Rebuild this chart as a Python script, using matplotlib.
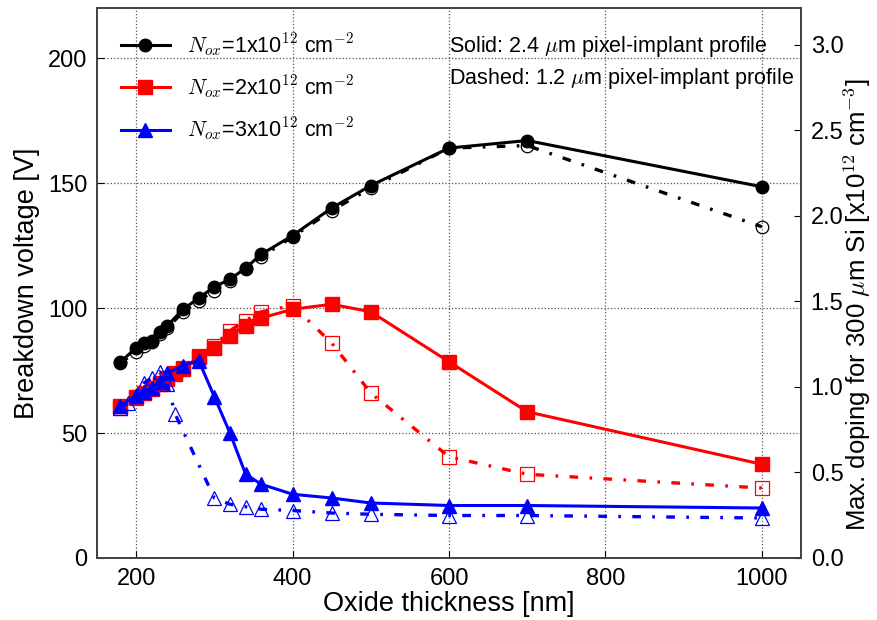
import matplotlib
matplotlib.use("Agg")
import matplotlib.pyplot as plt

plt.rcParams["font.family"] = ["Liberation Sans", "DejaVu Sans"]
plt.rcParams["mathtext.fontset"] = "cm"
plt.rcParams["xtick.direction"] = "in"
plt.rcParams["ytick.direction"] = "in"

# oxide thickness [nm] and breakdown voltage [V]
# solid = 2.4 um pixel-implant profile, dashed = 1.2 um profile
t_n1 = [180, 200, 210, 220, 230, 240, 260, 280, 300, 320, 340, 360, 400, 450, 500, 600, 700, 1000]
v_n1_solid = [78.5, 84, 86, 87, 90.5, 93, 99.5, 104, 108.5, 111.5, 116, 121.5, 129, 140, 149, 164, 167, 148.5]
v_n1_dashed = [78, 82.5, 85, 86.5, 89.5, 92, 98.5, 103, 107, 111, 115.5, 120.5, 128.5, 139, 148, 164, 165, 132.5]

t_n2 = [180, 200, 210, 220, 230, 240, 250, 260, 280, 300, 320, 340, 360, 400, 450, 500, 600, 700, 1000]
v_n2_solid = [61, 64.5, 66, 67.5, 69.5, 71.5, 73.5, 75.5, 80.5, 84, 89, 93, 96, 99.5, 101.5, 98.5, 78.5, 58.5, 37.5]
v_n2_dashed = [60, 64, 66, 68, 70, 72, 74, 76, 81, 85, 91, 95, 98.5, 101, 86, 66, 40.5, 33.5, 28]

t_n3_solid = [180, 200, 210, 220, 230, 240, 260, 280, 300, 320, 340, 360, 400, 450, 500, 600, 700, 1000]
v_n3_solid = [61, 65, 66.5, 68, 70.5, 74, 77, 79, 64.5, 50, 33.5, 29.5, 25.5, 24, 22, 21, 21, 20]
t_n3_dashed = [180, 190, 200, 210, 220, 230, 240, 250, 300, 320, 340, 360, 400, 450, 500, 600, 700, 1000]
v_n3_dashed = [60, 62, 65, 70, 72, 74.5, 69.5, 57.5, 24, 21.5, 20.5, 19.5, 19, 18, 17.5, 17, 17, 16]

labels = [r"$N_{ox}$=1x10$^{12}$ cm$^{-2}$",
          r"$N_{ox}$=2x10$^{12}$ cm$^{-2}$",
          r"$N_{ox}$=3x10$^{12}$ cm$^{-2}$"]

# full-depletion doping for 300 um Si at a given voltage, in 1e12 cm^-3 per V
eps_si = 11.9 * 8.854e-14  # F/cm
q = 1.602e-19
d = 300e-4  # cm
doping_per_volt = 2 * eps_si / (q * d ** 2) / 1e12

fig = plt.figure(figsize=(8.78, 6.2), dpi=100)
ax = fig.add_axes([0.1105, 0.1, 0.8018, 0.887])

series = [
    (t_n1, v_n1_solid, t_n1, v_n1_dashed, "black", "o", 9),
    (t_n2, v_n2_solid, t_n2, v_n2_dashed, "red", "s", 10),
    (t_n3_solid, v_n3_solid, t_n3_dashed, v_n3_dashed, "blue", "^", 10),
]

handles = []
for ts, vs, td, vd, color, marker, ms in series:
    ax.plot(td, vd, linestyle="-.", color=color, lw=2.4, marker=marker, ms=ms,
            mfc="none", mec=color, mew=0.9, dashes=(2.6, 3.4, 0.8, 3.4))
    h, = ax.plot(ts, vs, linestyle="-", color=color, lw=2.2, marker=marker, ms=ms,
                 mec=color)
    handles.append(h)

ax.set_xlim(150, 1050)
ax.set_ylim(0, 220)
ax.set_xticks([200, 400, 600, 800, 1000])
ax.set_yticks([0, 50, 100, 150, 200])
ax.grid(True, color="#555555", linestyle=":", linewidth=0.9)
ax.tick_params(labelsize=17, length=5, pad=7)
ax.set_xlabel("Oxide thickness [nm]", fontsize=19.5, labelpad=1)
ax.set_ylabel("Breakdown voltage [V]", fontsize=19.5, labelpad=6)

ax.legend(handles, labels, loc="upper left", frameon=False, fontsize=15.5,
          handlelength=2.3, handletextpad=0.8, labelspacing=0.68,
          borderaxespad=0.5, borderpad=0.6)

ax.text(0.5, 0.93, r"Solid: 2.4 $\mu$m pixel-implant profile", transform=ax.transAxes,
        ha="left", va="center", fontsize=15.5)
ax.text(0.5, 0.872, r"Dashed: 1.2 $\mu$m pixel-implant profile", transform=ax.transAxes,
        ha="left", va="center", fontsize=15.5)

ax2 = ax.twinx()
ax2.set_ylim(0, 220 * doping_per_volt)
ax2.set_yticks([0.0, 0.5, 1.0, 1.5, 2.0, 2.5, 3.0])
ax2.set_yticklabels(["0.0", "0.5", "1.0", "1.5", "2.0", "2.5", "3.0"])
ax2.tick_params(labelsize=17, length=5, pad=7)
ax2.set_ylabel(r"Max. doping for 300 $\mu$m Si [x10$^{12}$ cm$^{-3}$]", fontsize=18.5)
ax2.yaxis.set_label_coords(1.058, 0.46)

for a in (ax, ax2):
    for s in a.spines.values():
        s.set_color("#444444")
        s.set_linewidth(1.3)

fig.savefig("out.png", dpi=100)
